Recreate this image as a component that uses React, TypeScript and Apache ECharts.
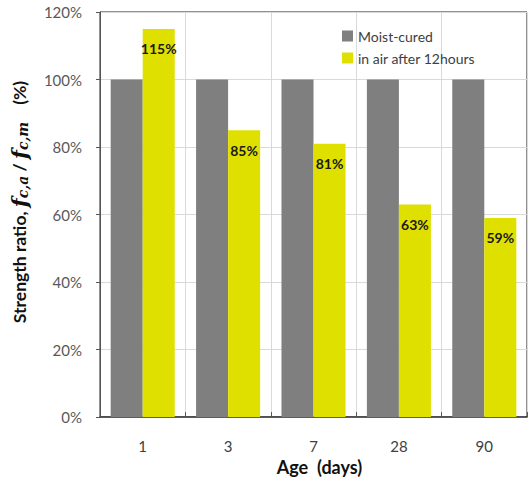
import React, { useEffect, useRef } from "react";
import * as echarts from "echarts";

const categories = ["1", "3", "7", "28", "90"];
const moistCured = [100, 100, 100, 100, 100];
const inAir = [115, 85, 81, 63, 59];
const seriesNames = ["Moist-cured", "in air after 12hours"];

export default function App() {
  const ref = useRef<HTMLDivElement>(null);
  useEffect(() => {
    document.body.style.margin = "0";
    if (!ref.current) return;
    const chart = echarts.init(ref.current, null, { renderer: "svg" });
    const font = "Lato, 'Noto Sans', sans-serif";
    const serif = "'DejaVu Serif', serif";
    chart.setOption({
      animation: false,
      textStyle: { fontFamily: font },
      grid: {
        left: 100,
        right: 3,
        top: 12,
        bottom: 57,
        show: true,
        borderColor: "#222",
        borderWidth: 1,
      },
      legend: {
        orient: "vertical",
        left: 337,
        top: 24,
        icon: "rect",
        itemWidth: 11,
        itemHeight: 11,
        itemGap: 8,
        textStyle: { fontSize: 14, color: "#404040", fontFamily: font },
        data: seriesNames,
      },
      xAxis: {
        type: "category",
        data: categories,
        name: "Age  (days)",
        nameLocation: "middle",
        nameGap: 39,
        nameTextStyle: { fontSize: 18, fontWeight: "bold", color: "#111", fontFamily: font, padding: [0, 0, 0, 12] },
        axisLine: { lineStyle: { color: "#333", width: 1.5 } },
        axisTick: { show: true, inside: true, length: 5, lineStyle: { color: "#555" } },
        axisLabel: { fontSize: 15, color: "#404040", margin: 21, fontFamily: font },
        splitLine: { show: true, lineStyle: { color: "#d9d9d9" } },
      },
      yAxis: {
        type: "value",
        min: 0,
        max: 120,
        interval: 20,
        axisLine: { show: true, lineStyle: { color: "#555" } },
        axisTick: { show: true, length: 4, lineStyle: { color: "#555" } },
        axisLabel: { formatter: "{value}%", fontSize: 15, color: "#595959", margin: 18, fontFamily: font },
        splitLine: { show: true, lineStyle: { color: "#d9d9d9" } },
      },
      graphic: [
        {
          type: "text",
          x: 19,
          y: 202,
          rotation: Math.PI / 2,
          style: {
            text: "{b|Strength ratio, }{i|f}{s|c,a}{b| / }{i|f}{s|c,m}{b|    (%)}",
            align: "center",
            verticalAlign: "middle",
            rich: {
              b: { fontSize: 17.5, fontWeight: "bold", fill: "#111", fontFamily: font },
              i: { fontSize: 21, fontWeight: "bold", fontStyle: "italic", fill: "#111", fontFamily: serif },
              s: { fontSize: 14, fontWeight: "bold", fontStyle: "italic", fill: "#111", fontFamily: serif, padding: [7, 0, 0, 0] },
            },
          },
        },
      ],
      series: [
        {
          name: seriesNames[0],
          type: "bar",
          data: moistCured,
          barGap: "0%",
          barCategoryGap: "25%",
          itemStyle: { color: "#7f7f7f" },
        },
        {
          name: seriesNames[1],
          type: "bar",
          data: inAir,
          barGap: "0%",
          barCategoryGap: "25%",
          itemStyle: { color: "#dfe000" },
          label: {
            show: true,
            position: "insideTop",
            distance: 13,
            formatter: "{c}%",
            fontSize: 14,
            fontWeight: "bold",
            color: "#1a1a1a",
            fontFamily: font,
          },
        },
      ],
    });
    return () => chart.dispose();
  }, []);
  return <div ref={ref} style={{ width: 530, height: 481 }} />;
}
